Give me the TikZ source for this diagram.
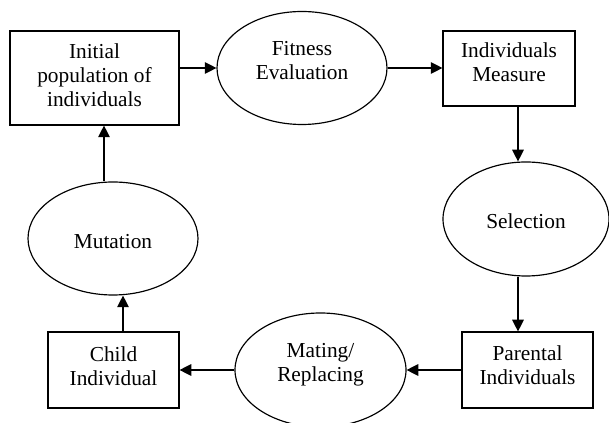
\documentclass[tikz,border=0pt]{standalone}
\usepackage{fontspec}
\setmainfont{Liberation Serif}
\usetikzlibrary{arrows.meta,shapes.geometric}
\begin{document}
\begin{tikzpicture}[x=0.6pt,y=-0.6pt,line width=0.7pt,
    font=\fontsize{12.8}{14.4}\selectfont,
    every node/.style={draw,line width=0.7pt,align=center,inner sep=0pt},
    stage/.style={rectangle,minimum width=78.6pt,minimum height=45.6pt},
    oper/.style={ellipse,minimum width=102pt,minimum height=67.8pt},
    >={Triangle[length=7pt,width=7pt]}]
  \useasboundingbox (0,0) rectangle (609,423);
  \draw
    (94.5,78) node[stage,minimum width=101.4pt,minimum height=56.4pt,text depth=3pt] (init){Initial\\population of\\individuals}
    (302,68) node[oper,text depth=9.6pt] (fit){Fitness\\Evaluation}
    (509,68.5) node[stage,minimum width=79.2pt,minimum height=45pt,text depth=7.2pt] (meas){Individuals\\Measure}
    (526,219) node[oper,minimum width=99.6pt,minimum height=68.4pt,text height=12pt] (sel){Selection}
    (527.5,370) node[stage,text depth=6pt] (par){Parental\\Individuals}
    (320.5,370) node[oper,minimum width=102.6pt,minimum height=68.4pt,text depth=8.7pt] (mat){Mating/\\Replacing}
    (113.5,370) node[stage,text depth=4.8pt] (child){Child\\Individual}
    (113,238.5) node[oper,text height=12.5pt] (mut){Mutation};
  \begin{scope}[->]
    \draw (init.east |- fit.west) to (fit.west);
    \draw (fit.east) to (meas.west |- fit.east);
    \draw ([xshift=5.4pt]meas.south) to ([xshift=5.4pt]meas.south |- sel.north);
    \draw ([xshift=-4.8pt]sel.south) to ([xshift=-4.8pt]sel.south |- par.north);
    \draw (par.west) to (mat.east);
    \draw (mat.west) to (child.east);
    \draw ([xshift=5.7pt]child.north) to ([xshift=5.7pt]child.north |- mut.south);
    \draw ([xshift=-5.4pt]mut.north) to ([xshift=-5.4pt]mut.north |- init.south);
  \end{scope}
\end{tikzpicture}
\end{document}
